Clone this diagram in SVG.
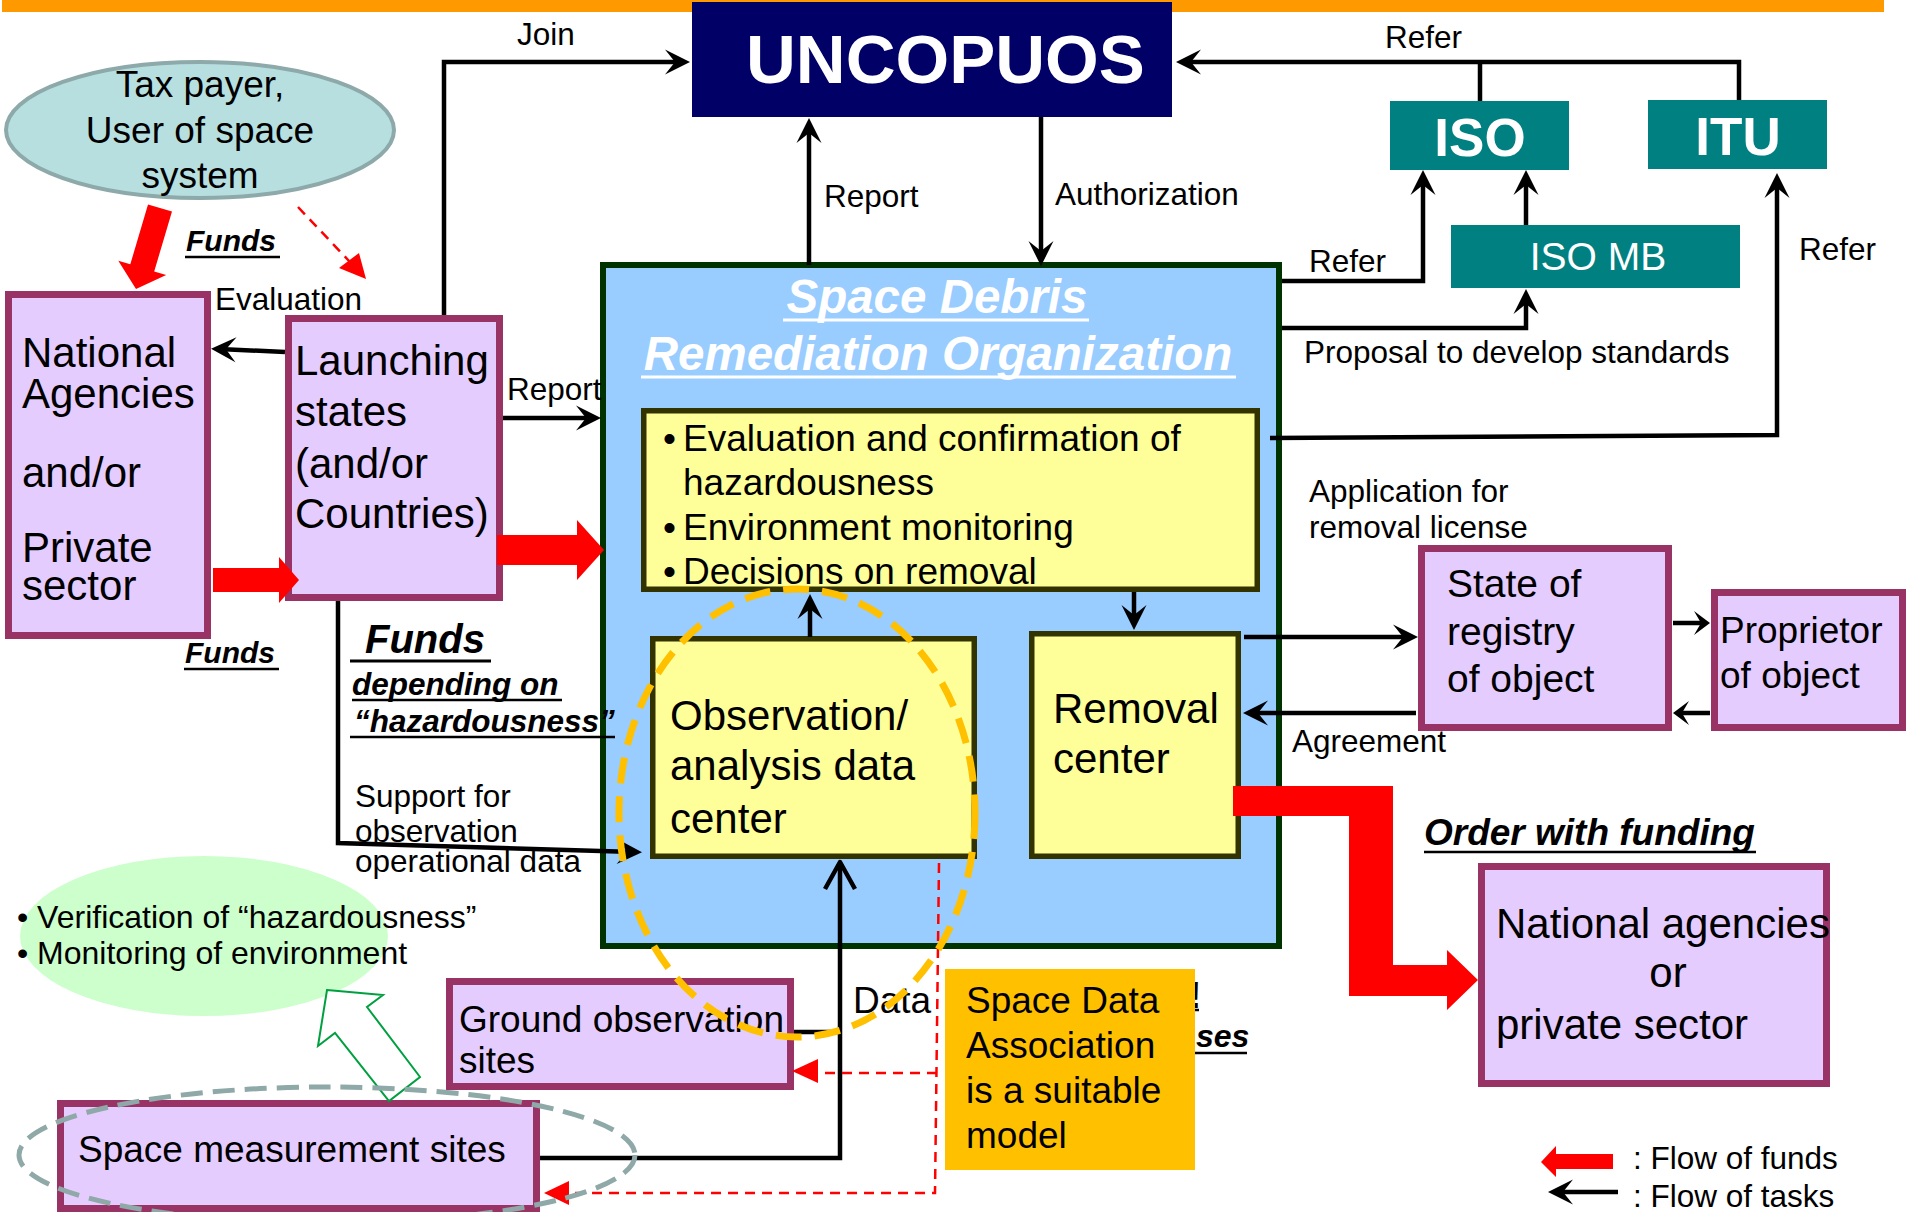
<svg xmlns="http://www.w3.org/2000/svg" width="1908" height="1212" viewBox="0 0 1908 1212">
<style>
text{font-family:"Liberation Sans",Arial,sans-serif;fill:#000}
.box{fill:#E5CCFF;stroke:#993366;stroke-width:7}
.ybox{fill:#FFFF99;stroke:#333300;stroke-width:5.5}
.teal{fill:#008080}
.lbl{font-size:31.5px}
.f37{font-size:37px}
.f42{font-size:42px}
.bi{font-weight:bold;font-style:italic}
.wt{fill:#fff}
.conn{fill:none;stroke:#000;stroke-width:4.5}
.arr{marker-end:url(#ah)}
.arrs{marker-end:url(#ahs)}
.ul{stroke:#000;stroke-width:2.5}
.red{fill:#FF0000}
.rdash{fill:none;stroke:#FF0000;stroke-width:2.5;stroke-dasharray:10 7}
</style>
<defs>
<marker id="ah" markerUnits="userSpaceOnUse" markerWidth="30" markerHeight="30" viewBox="-26 -15 30 30" refX="-8" refY="0" orient="auto">
<path d="M0,0 L-25,-12.5 L-15,0 L-25,12.5 z" fill="#000"/>
</marker>
<marker id="ahs" markerUnits="userSpaceOnUse" markerWidth="30" markerHeight="30" viewBox="-26 -15 30 30" refX="-6" refY="0" orient="auto">
<path d="M0,0 L-16,-12 L-9,0 L-16,12 z" fill="#000"/>
</marker>
</defs>
<rect x="0" y="0" width="1908" height="1212" fill="#fff"/>
<rect x="2" y="0" width="1882" height="12" fill="#FF9900"/>

<g id="taxpayer">
<ellipse cx="200" cy="130" rx="194" ry="68" fill="#B7DFE0" stroke="#8DA9A9" stroke-width="4"/>
<text x="200" y="97" font-size="37" text-anchor="middle">Tax payer,</text>
<text x="200" y="143" font-size="37" text-anchor="middle">User of space</text>
<text x="200" y="188" font-size="37" text-anchor="middle">system</text>
</g>

<g id="verification">
<ellipse cx="204" cy="936" rx="184" ry="80" fill="#CCFFCC"/>
<text x="17" y="928" font-size="32">• Verification of “hazardousness”</text>
<text x="17" y="964" font-size="32">• Monitoring of environment</text>
</g>

<g id="uncopuos">
<rect x="692" y="2" width="480" height="115" fill="#000066"/>
<text x="746" y="83" font-size="69" font-weight="bold" class="wt">UNCOPUOS</text>
</g>

<g id="iso">
<rect x="1390" y="101" width="179" height="69" class="teal"/>
<text x="1480" y="156" font-size="53" font-weight="bold" text-anchor="middle" class="wt">ISO</text>
</g>
<g id="itu">
<rect x="1648" y="100" width="179" height="69" class="teal"/>
<text x="1738" y="155" font-size="53" font-weight="bold" text-anchor="middle" class="wt">ITU</text>
</g>
<g id="isomb">
<rect x="1451" y="225" width="289" height="63" class="teal"/>
<text x="1598" y="270" font-size="39" text-anchor="middle" class="wt">ISO MB</text>
</g>

<g id="national-agencies">
<rect x="8.5" y="294.5" width="199" height="341" class="box"/>
<text x="22" y="367" class="f42">National</text>
<text x="22" y="408" class="f42">Agencies</text>
<text x="22" y="487" class="f42">and/or</text>
<text x="22" y="562" class="f42">Private</text>
<text x="22" y="600" class="f42">sector</text>
</g>

<g id="launching-states">
<rect x="288.5" y="318.5" width="211" height="279" class="box"/>
<text x="295" y="375" class="f42">Launching</text>
<text x="295" y="426" class="f42">states</text>
<text x="295" y="478" class="f42">(and/or</text>
<text x="295" y="528" class="f42">Countries)</text>
</g>

<g id="sdro">
<rect x="603" y="265" width="676" height="681" fill="#99CCFF" stroke="#003300" stroke-width="6"/>
<text x="937" y="313" font-size="47.5" text-anchor="middle" class="bi wt">Space Debris</text>
<line x1="783" y1="320" x2="1089" y2="320" stroke="#fff" stroke-width="3"/>
<text x="938" y="370" font-size="47.5" text-anchor="middle" class="bi wt">Remediation Organization</text>
<line x1="641" y1="377" x2="1236" y2="377" stroke="#fff" stroke-width="3"/>
</g>

<g id="tasks">
<rect x="643.75" y="410.75" width="613.5" height="178.5" class="ybox"/>
<text x="663" y="451" class="f37">•</text>
<text x="683" y="451" class="f37">Evaluation and confirmation of</text>
<text x="683" y="495" class="f37">hazardousness</text>
<text x="663" y="540" class="f37">•</text>
<text x="683" y="540" class="f37">Environment monitoring</text>
<text x="663" y="584" class="f37">•</text>
<text x="683" y="584" class="f37">Decisions on removal</text>
</g>

<g id="observation-center">
<rect x="652.75" y="638.75" width="321.5" height="217.5" class="ybox"/>
<text x="670" y="730" class="f42">Observation/</text>
<text x="670" y="780" class="f42">analysis data</text>
<text x="670" y="833" class="f42">center</text>
</g>

<g id="removal-center">
<rect x="1031.75" y="633.75" width="206.5" height="222.5" class="ybox"/>
<text x="1053" y="723" class="f42">Removal</text>
<text x="1053" y="773" class="f42">center</text>
</g>

<g id="state-of-registry">
<rect x="1421.5" y="548.5" width="247" height="179" class="box"/>
<text x="1447" y="597" font-size="39">State of</text>
<text x="1447" y="645" font-size="39">registry</text>
<text x="1447" y="692" font-size="39">of object</text>
</g>

<g id="proprietor">
<rect x="1714.5" y="592.5" width="188" height="135" class="box"/>
<text x="1720" y="643" class="f37">Proprietor</text>
<text x="1720" y="688" class="f37">of object</text>
</g>

<g id="national-agencies-private">
<rect x="1481.5" y="866.5" width="345" height="217" class="box"/>
<text x="1496" y="938" class="f42">National agencies</text>
<text x="1668" y="987" class="f42" text-anchor="middle">or</text>
<text x="1496" y="1039" class="f42">private sector</text>
</g>

<g id="ground-observation">
<rect x="449.5" y="981.5" width="341" height="105" class="box"/>
<text x="459" y="1032" class="f37">Ground observation</text>
<text x="459" y="1073" class="f37">sites</text>
</g>

<g id="space-measurement">
<rect x="60.5" y="1103.5" width="476" height="105" class="box"/>
<text x="78" y="1162" class="f37">Space measurement sites</text>
</g>

<g id="connectors">
<path class="conn arr" d="M444,315 L444,62 L682,62"/>
<text x="517" y="45" class="lbl">Join</text>
<path class="conn arr" d="M1739,100 L1739,62 L1184,62"/>
<line x1="1480" y1="62" x2="1480" y2="101" stroke="#000" stroke-width="4.5"/>
<text x="1385" y="48" class="lbl">Refer</text>
<path class="conn arr" d="M809,265 L809,126"/>
<text x="824" y="207" class="lbl">Report</text>
<path class="conn arr" d="M1041,117 L1041,258"/>
<text x="1055" y="205" class="lbl">Authorization</text>
<path class="conn arr" d="M1282,281 L1423,281 L1423,178"/>
<text x="1309" y="272" class="lbl">Refer</text>
<path class="conn arr" d="M1282,328 L1526,328 L1526,297"/>
<text x="1304" y="363" class="lbl">Proposal to develop standards</text>
<path class="conn arr" d="M1526,225 L1526,178"/>
<path class="conn arr" d="M1270,438 L1777,435 L1777,181"/>
<text x="1799" y="260" class="lbl">Refer</text>
<path class="conn arr" d="M285,352 L219,349"/>
<text x="215" y="310" class="lbl">Evaluation</text>
<path class="conn arr" d="M503,418 L593,418"/>
<text x="507" y="400" class="lbl">Report</text>
<path class="conn arr" d="M338,601 L338,843 L634,852"/>
<text x="355" y="807" class="lbl">Support for</text>
<text x="355" y="842" class="lbl">observation</text>
<text x="355" y="872" class="lbl">operational data</text>
<path class="conn arr" d="M810,637 L810,602"/>
<path class="conn arr" d="M1134,592 L1134,622"/>
<path class="conn arr" d="M1244,637 L1410,637"/>
<text x="1309" y="502" class="lbl">Application for</text>
<text x="1309" y="538" class="lbl">removal license</text>
<path class="conn arr" d="M1416,713 L1251,713"/>
<text x="1292" y="752" class="lbl">Agreement</text>
<path class="conn arrs" d="M1673,623 L1704,623"/>
<path class="conn arrs" d="M1710,713 L1679,713"/>
<path class="conn" d="M540,1158 L840,1158 L840,863"/>
<path class="conn" d="M794,1032 L840,1032"/>
<polyline points="825,889 840,862 855,889" fill="none" stroke="#000" stroke-width="4.5" stroke-linejoin="round"/>
<text x="853" y="1013" class="f37">Data</text>

<polygon class="red" points="171.99,211.55 154.2,271.45 166.2,275 136,289 118.3,260.8 130.3,264.35 148.01,204.45"/>
<text x="186" y="251" font-size="30" class="bi">Funds</text>
<line class="ul" x1="185" y1="257" x2="280" y2="257"/>
<line x1="298" y1="207" x2="350" y2="262" class="rdash"/>
<polygon class="red" points="339,268 359,253 366,279"/>
<polygon class="red" points="213,568 279,568 279,557 299,580 279,603 279,592 213,592"/>
<text x="185" y="663" font-size="30" class="bi">Funds</text>
<line class="ul" x1="184" y1="669" x2="279" y2="669"/>
<polygon class="red" points="497,535 577,535 577,520 604,550 577,580 577,565 497,565"/>
<text x="365" y="653" font-size="40" class="bi">Funds</text>
<line x1="350" y1="661" x2="491" y2="661" stroke="#000" stroke-width="3"/>
<text x="352" y="695" font-size="31.5" class="bi">depending on</text>
<line class="ul" x1="352" y1="700" x2="562" y2="700"/>
<text x="354" y="732" font-size="31.5" class="bi">“hazardousness”</text>
<line class="ul" x1="350" y1="737" x2="615" y2="737"/>
<polygon class="red" points="1233,786 1393,786 1393,965 1447,965 1447,950 1478,980 1447,1010 1447,996 1349,996 1349,816 1233,816"/>
<text x="1424" y="845" font-size="37" class="bi">Order with funding</text>
<line class="ul" x1="1424" y1="852" x2="1756" y2="852"/>
<polygon points="327,990 383,995 367,1007 420,1077 389,1101 335,1033 318,1046" fill="#fff" stroke="#00A040" stroke-width="2"/>
<path class="rdash" d="M939,863 L935,1193 L569,1193"/>
<polygon class="red" points="544,1193 569,1181 569,1205"/>
<path class="rdash" d="M937,1073 L818,1073"/>
<polygon class="red" points="792,1071 818,1059 818,1083"/>
</g>

<g id="hidden-fragments">
<text x="1189" y="1008" font-size="37" font-weight="bold">!</text>
<line class="ul" x1="1189" y1="1010" x2="1199" y2="1010"/>
<text x="1196" y="1047" font-size="32" class="bi">ses</text>
<line class="ul" x1="1195" y1="1053" x2="1247" y2="1053"/>
</g>

<g id="space-data-association">
<rect x="945" y="969" width="250" height="201" fill="#FFC000"/>
<text x="966" y="1013" class="f37">Space Data</text>
<text x="966" y="1058" class="f37">Association</text>
<text x="966" y="1103" class="f37">is a suitable</text>
<text x="966" y="1148" class="f37">model</text>
</g>

<g id="highlights">
<ellipse cx="797" cy="813" rx="178" ry="224" fill="none" stroke="#FFC000" stroke-width="7" stroke-dasharray="26 13"/>
<ellipse cx="327" cy="1155" rx="308" ry="68" fill="none" stroke="#8FA8A8" stroke-width="5" stroke-dasharray="22 10"/>
</g>

<g id="legend">
<polygon class="red" points="1541,1162 1556,1146 1556,1154 1613,1154 1613,1169 1556,1169 1556,1177"/>
<text x="1633" y="1169" class="lbl">: Flow of funds</text>
<path class="conn arr" d="M1618,1192 L1556,1192"/>
<text x="1633" y="1207" class="lbl">: Flow of tasks</text>
</g>
</svg>
